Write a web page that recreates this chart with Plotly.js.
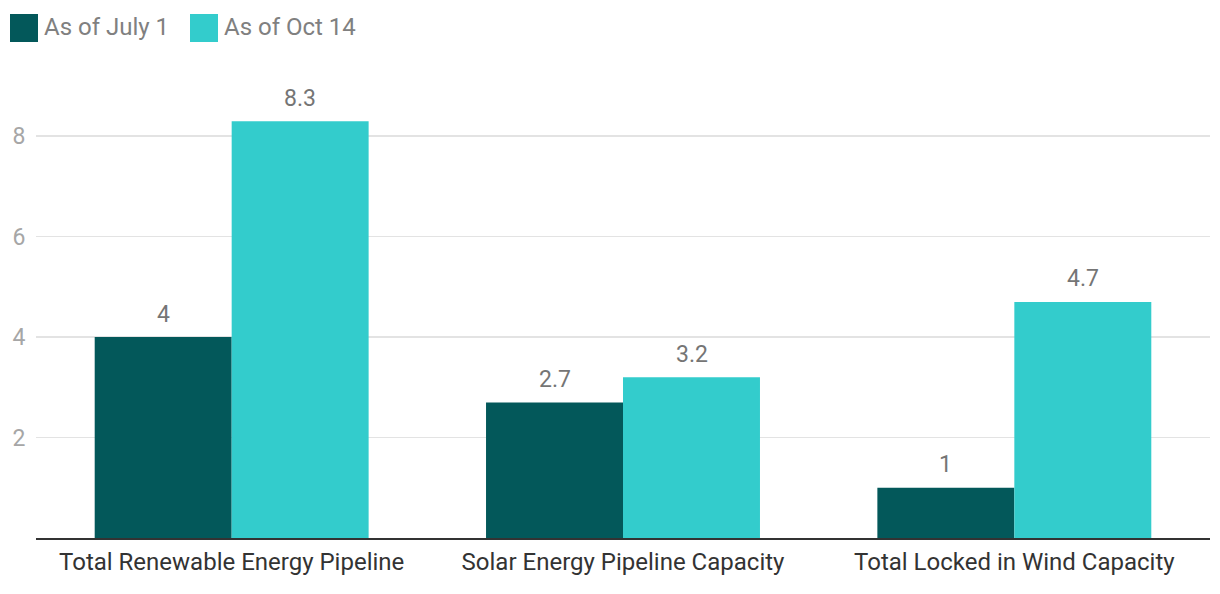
<!DOCTYPE html>
<html>
<head>
<meta charset="utf-8">
<script src="https://cdn.plot.ly/plotly-3.0.1.min.js"></script>
<style>html,body{margin:0;padding:0;background:#fff;}#chart{width:1220px;height:594px;}</style>
</head>
<body>
<div id="chart"></div>
<script>
var categories = ["Total Renewable Energy Pipeline", "Solar Energy Pipeline Capacity", "Total Locked in Wind Capacity"];
var seriesNames = ["As of July 1", "As of Oct 14"];
var julyValues = [4, 2.7, 1];
var octValues = [8.3, 3.2, 4.7];
var yTickValues = [2, 4, 6, 8];
var yTickLabels = ["2", "4", "6", "8"];

var colors = ["#03585a", "#33cccc"];
var FONT = "Roboto, 'Noto Sans', sans-serif";

var traces = [
  {type: "bar", name: seriesNames[0], x: categories, y: julyValues, marker: {color: colors[0]}, showlegend: false, hoverinfo: "none"},
  {type: "bar", name: seriesNames[1], x: categories, y: octValues, marker: {color: colors[1]}, showlegend: false, hoverinfo: "none"}
];

var annotations = [];
var series = [julyValues, octValues];
var offsets = [-68.5, 68.5];
series.forEach(function (vals, s) {
  vals.forEach(function (v, i) {
    annotations.push({
      x: categories[i], y: v, xref: "x", yref: "y",
      text: String(v), showarrow: false,
      xshift: offsets[s], yshift: 23, yanchor: "middle", xanchor: "center",
      font: {family: FONT, size: 23, color: "#757575"}
    });
  });
});

// legend (manual, large squares)
var legendX = [0.0048, 0.1584];
var squareX = [[-26, 2], [154, 182]];
var shapes = [];
seriesNames.forEach(function (n, s) {
  shapes.push({
    type: "rect", xref: "paper", yref: "paper", xsizemode: "pixel", ysizemode: "pixel",
    xanchor: 0, yanchor: 1, x0: squareX[s][0], x1: squareX[s][1], y0: 44, y1: 72,
    fillcolor: colors[s], line: {width: 0}
  });
  annotations.push({
    xref: "paper", yref: "paper", x: legendX[s], y: 1.1305, xanchor: "left", yanchor: "middle",
    text: n, showarrow: false, font: {family: FONT, size: 24, color: "#808080"}
  });
});

var layout = {
  width: 1220, height: 594,
  margin: {l: 36, r: 10, t: 86, b: 56},
  paper_bgcolor: "#ffffff", plot_bgcolor: "#ffffff",
  barmode: "group", bargap: 0.3, bargroupgap: 0,
  showlegend: false,
  xaxis: {
    type: "category", showgrid: false, showline: true, linecolor: "#333333", linewidth: 2,
    ticks: "outside", ticklen: 1, tickcolor: "rgba(0,0,0,0)",
    tickfont: {family: FONT, size: 24, color: "#333333"}, fixedrange: true
  },
  yaxis: {
    range: [0, 9], tickvals: yTickValues, ticktext: yTickLabels,
    showgrid: true, gridcolor: "#e3e3e3", gridwidth: 1.5, zeroline: false, showline: false,
    ticks: "outside", ticklen: 5, tickcolor: "rgba(0,0,0,0)",
    tickfont: {family: FONT, size: 23, color: "#a6a6a6"}, fixedrange: true
  },
  annotations: annotations,
  shapes: shapes
};

Plotly.newPlot("chart", traces, layout, {displayModeBar: false, staticPlot: true});
</script>
</body>
</html>
